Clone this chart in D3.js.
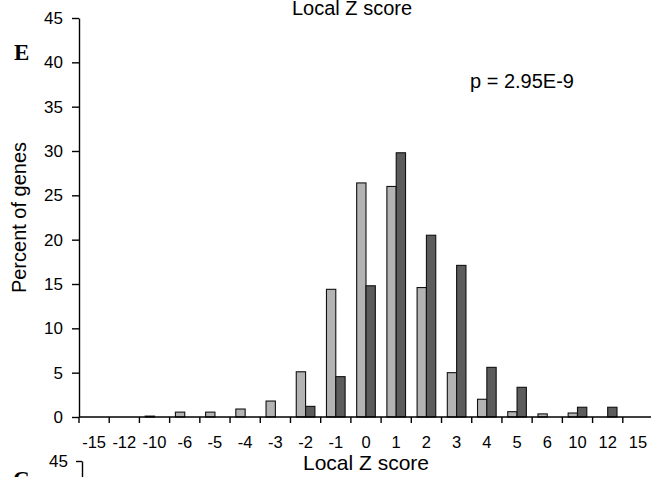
<!DOCTYPE html>
<html>
<head>
<meta charset="utf-8">
<script src="https://cdn.jsdelivr.net/npm/d3@7/dist/d3.min.js"></script>
<style>
  html, body { margin: 0; padding: 0; background: #fff; }
  svg { display: block; font-family: "Liberation Sans", Arial, sans-serif; }
  .axis path, .axis line { stroke: #000; stroke-width: 1.4; }
  .axis text { font-size: 17px; fill: #000; font-family: "Liberation Sans", Arial, sans-serif; }
</style>
</head>
<body>
<svg id="chart" width="651" height="477"></svg>
<script>
// Local Z score histogram, panel E
const categories = ['-15', '-12', '-10', '-6', '-5', '-4', '-3', '-2', '-1', '0', '1', '2', '3', '4', '5', '6', '10', '12', '15'];
const lightValues = [0, 0, 0.1, 0.55, 0.55, 0.9, 1.8, 5.1, 14.4, 26.4, 26.0, 14.6, 5.0, 2.0, 0.6, 0.35, 0.45, 0, 0];
const darkValues  = [0, 0, 0, 0, 0, 0, 0, 1.2, 4.55, 14.8, 29.8, 20.5, 17.1, 5.6, 3.35, 0, 1.1, 1.1, 0];
const series = ['light', 'dark'];
const yTicks = [0, 5, 10, 15, 20, 25, 30, 35, 40, 45];

const svg = d3.select('#chart');

const x0 = d3.scaleBand().domain(categories).range([79, 653]).padding(0);
const x1 = d3.scaleBand().domain(series).range([0, x0.bandwidth()]).paddingInner(0).paddingOuter(0.62);
const y = d3.scaleLinear().domain([0, 45]).range([417, 18]);
const color = d3.scaleOrdinal().domain(series).range(['#b3b3b3', '#5c5c5c']);

const rows = categories.map((c, i) => ({ cat: c, light: lightValues[i], dark: darkValues[i] }));

// bars
const groups = svg.append('g').selectAll('g')
  .data(rows).join('g')
  .attr('transform', d => `translate(${x0(d.cat)},0)`);

groups.selectAll('rect')
  .data(d => series.map(k => ({ key: k, value: d[k] })).filter(s => s.value > 0))
  .join('rect')
  .attr('x', d => x1(d.key))
  .attr('width', x1.bandwidth())
  .attr('y', d => y(d.value))
  .attr('height', d => y(0) - y(d.value))
  .attr('fill', d => color(d.key))
  .attr('stroke', '#111')
  .attr('stroke-width', 1.1);

// y axis
svg.append('g').attr('class', 'axis')
  .attr('transform', `translate(${x0.range()[0]},0)`)
  .call(d3.axisLeft(y).tickValues(yTicks).tickSize(7).tickSizeOuter(0).tickPadding(9));

// x axis: line + boundary ticks (ticks sit between categories)
const xAxis = svg.append('g').attr('class', 'axis');
xAxis.append('line')
  .attr('x1', x0.range()[0]).attr('x2', x0.range()[1])
  .attr('y1', y(0)).attr('y2', y(0));
xAxis.selectAll('line.tick')
  .data(categories.concat(['end']))
  .join('line').attr('class', 'tick')
  .attr('x1', d => d === 'end' ? x0.range()[1] : x0(d))
  .attr('x2', d => d === 'end' ? x0.range()[1] : x0(d))
  .attr('y1', y(0)).attr('y2', y(0) + 6);
xAxis.selectAll('text')
  .data(categories)
  .join('text')
  .attr('x', d => x0(d) + x0.bandwidth() / 2)
  .attr('y', 448)
  .attr('text-anchor', 'middle')
  .style('font-size', '16.5px')
  .text(d => d);

// titles
svg.append('text')
  .attr('x', (x0.range()[0] + x0.range()[1]) / 2).attr('y', 470)
  .attr('text-anchor', 'middle')
  .style('font-size', '21px')
  .text('Local Z score');

svg.append('text')
  .attr('transform', `translate(26,${(y.range()[0] + y.range()[1]) / 2}) rotate(-90)`)
  .attr('text-anchor', 'middle')
  .style('font-size', '20px')
  .text('Percent of genes');

svg.append('text')
  .attr('x', 470).attr('y', 88)
  .style('font-size', '20px')
  .text('p = 2.95E-9');

svg.append('text')
  .attr('x', 14).attr('y', 60)
  .style('font-family', '"Liberation Serif", "Times New Roman", serif')
  .style('font-weight', 'bold')
  .style('font-size', '23px')
  .text('E');

// cut-off pieces of the neighbouring panels
svg.append('text')
  .attr('x', 292).attr('y', 15)
  .style('font-size', '20px')
  .text('Local Z score');

const yNext = d3.scaleLinear().domain([0, 45]).range([860, 461]);
svg.append('g').attr('class', 'axis')
  .attr('transform', 'translate(82,0)')
  .call(d3.axisLeft(yNext).tickValues([45]).tickSize(6).tickSizeOuter(0).tickPadding(8));

svg.append('text')
  .attr('x', 13).attr('y', 487)
  .style('font-family', '"Liberation Serif", "Times New Roman", serif')
  .style('font-weight', 'bold')
  .style('font-size', '23px')
  .text('C');
</script>
</body>
</html>
